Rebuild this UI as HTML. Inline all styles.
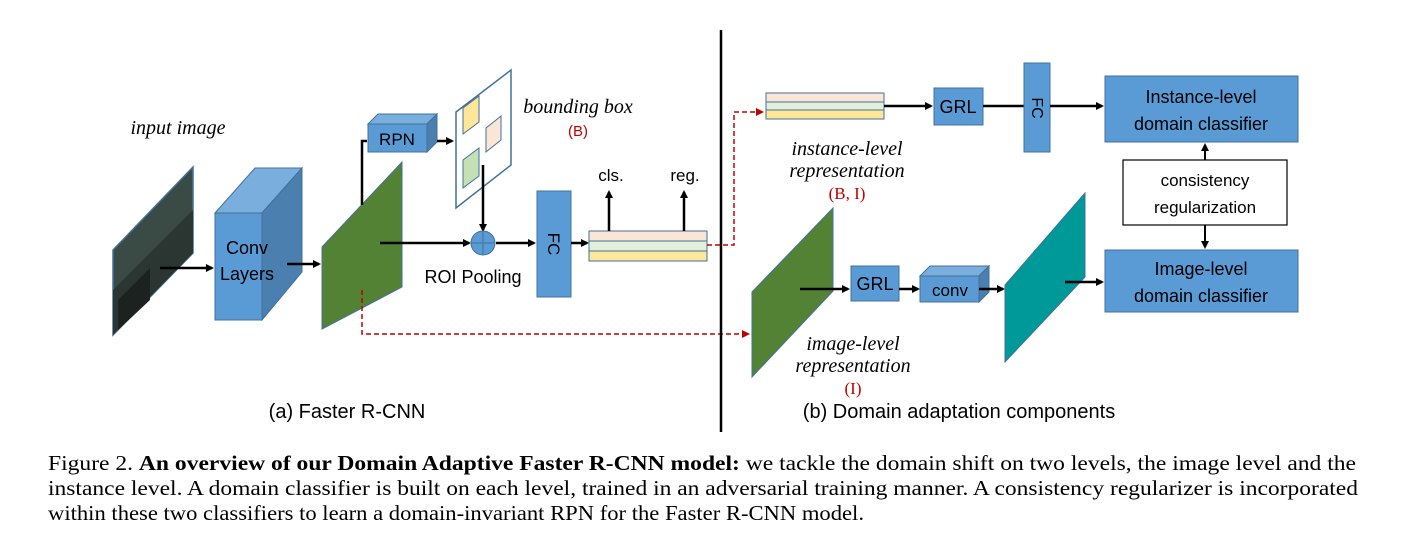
<!DOCTYPE html>
<html><head><meta charset="utf-8"><style>
html,body{margin:0;padding:0;background:#fff;width:1402px;height:550px;overflow:hidden}
svg{display:block}
.s{font-family:"Liberation Sans","DejaVu Sans",sans-serif}
.i{font-family:"Liberation Serif",serif;font-style:italic}
.c{font-family:"Liberation Serif",serif}
</style></head><body>
<svg width="1402" height="550" viewBox="0 0 1402 550" xmlns="http://www.w3.org/2000/svg">
<defs>
<marker id="a" markerWidth="8" markerHeight="8" refX="6" refY="4" orient="auto" markerUnits="userSpaceOnUse"><path d="M0,0 L8,4 L0,8 z" fill="#000"/></marker>
<marker id="r" markerWidth="8" markerHeight="8" refX="6" refY="4" orient="auto" markerUnits="userSpaceOnUse"><path d="M0,0 L8,4 L0,8 z" fill="#c00000"/></marker>
</defs>
<!-- input image -->
<polygon points="113,250 193,167 193,253 113,335" fill="#3a4a44" stroke="#41719c" stroke-width="1.5"/>
<polygon points="113,290 193,210 193,253 113,335" fill="#2b3532"/>
<polygon points="118,300 150,268 150,300 118,330" fill="#1c2220"/>
<text x="178" y="134" class="i" font-size="20" text-anchor="middle">input image</text>
<line x1="160" y1="268" x2="212" y2="268" stroke="#000" stroke-width="2.5" marker-end="url(#a)"/>
<!-- conv -->
<polygon points="215,213 255,168 302,168 262,213" fill="#7aaedd" stroke="#41719c"/>
<polygon points="262,213 302,168 302,272 262,320" fill="#4a7fb0" stroke="#41719c"/>
<rect x="215" y="213" width="47" height="107" fill="#5b9bd5" stroke="#41719c"/>
<text x="247" y="254" class="s" font-size="18" text-anchor="middle">Conv</text>
<text x="247" y="280" class="s" font-size="18" text-anchor="middle">Layers</text>
<line x1="287" y1="264" x2="319" y2="264" stroke="#000" stroke-width="2.5" marker-end="url(#a)"/>
<!-- green map -->
<polygon points="322,247 402,162 402,287 322,329" fill="#548235" stroke="#41719c"/>
<polyline points="362,205 362,141 367,141" fill="none" stroke="#000" stroke-width="2.5"/>
<!-- RPN -->
<polygon points="368,124 378,114 437,114 427,124" fill="#7aaedd" stroke="#41719c"/>
<polygon points="427,124 437,114 437,142 427,152" fill="#4a7fb0" stroke="#41719c"/>
<rect x="368" y="124" width="59" height="28" fill="#5b9bd5" stroke="#41719c"/>
<text x="397" y="145" class="s" font-size="17" text-anchor="middle">RPN</text>
<line x1="437" y1="141" x2="452" y2="141" stroke="#000" stroke-width="2.5" marker-end="url(#a)"/>
<!-- bbox panel -->
<polygon points="456,112 511,70 511,165 456,208" fill="#fff" stroke="#41719c" stroke-width="1.5"/>
<polygon points="463,108 479,96 479,122 463,134" fill="#ffe699" stroke="#41719c"/>
<polygon points="486,128 501,116 501,140 486,152" fill="#fbe5d6" stroke="#41719c"/>
<polygon points="463,160 479,148 479,176 463,188" fill="#c5e0b4" stroke="#41719c"/>
<line x1="483" y1="165" x2="483" y2="230" stroke="#000" stroke-width="2.5" marker-end="url(#a)"/>
<text x="578" y="113" class="i" font-size="20" text-anchor="middle">bounding box</text>
<text x="578" y="136" class="s" font-size="15" fill="#c00000" text-anchor="middle">(B)</text>
<line x1="380" y1="243" x2="469" y2="243" stroke="#000" stroke-width="2.5" marker-end="url(#a)"/>
<circle cx="483" cy="243" r="12" fill="#5b9bd5" stroke="#41719c"/>
<line x1="471" y1="243" x2="495" y2="243" stroke="#41719c"/><line x1="483" y1="231" x2="483" y2="255" stroke="#41719c"/>
<text x="473" y="283" class="s" font-size="18" text-anchor="middle">ROI Pooling</text>
<line x1="496" y1="243" x2="534" y2="243" stroke="#000" stroke-width="2.5" marker-end="url(#a)"/>
<rect x="537" y="191" width="34" height="106" fill="#5b9bd5" stroke="#41719c"/>
<text x="0" y="0" class="s" font-size="17" text-anchor="middle" transform="translate(548,244) rotate(90)">FC</text>
<line x1="571" y1="243" x2="587" y2="243" stroke="#000" stroke-width="2.5" marker-end="url(#a)"/>
<rect x="589" y="231" width="118" height="10" fill="#fbe5d6" stroke="#41719c"/>
<rect x="589" y="241" width="118" height="10" fill="#e2efda" stroke="#41719c"/>
<rect x="589" y="251" width="118" height="10" fill="#ffe699" stroke="#41719c"/>
<line x1="609" y1="231" x2="609" y2="192" stroke="#000" stroke-width="2.5" marker-end="url(#a)"/>
<line x1="684" y1="231" x2="684" y2="192" stroke="#000" stroke-width="2.5" marker-end="url(#a)"/>
<text x="611" y="181" class="s" font-size="17" text-anchor="middle">cls.</text>
<text x="685" y="181" class="s" font-size="17" text-anchor="middle">reg.</text>
<!-- red dashed -->
<polyline points="707,245 734,245 734,112 762,112" fill="none" stroke="#c00000" stroke-width="1.5" stroke-dasharray="5,3" marker-end="url(#r)"/>
<polyline points="362,290 362,334 748,334" fill="none" stroke="#c00000" stroke-width="1.5" stroke-dasharray="5,3" marker-end="url(#r)"/>
<!-- divider -->
<line x1="721" y1="30" x2="721" y2="432" stroke="#000" stroke-width="2.5"/>
<text x="347" y="418" class="s" font-size="20" text-anchor="middle">(a) Faster R-CNN</text>
<text x="959" y="418" class="s" font-size="20" text-anchor="middle">(b) Domain adaptation components</text>
<!-- instance path -->
<rect x="766" y="93" width="118" height="9" fill="#fbe5d6" stroke="#41719c"/>
<rect x="766" y="102" width="118" height="8" fill="#e2efda" stroke="#41719c"/>
<rect x="766" y="110" width="118" height="9" fill="#ffe699" stroke="#41719c"/>
<line x1="884" y1="106" x2="931" y2="106" stroke="#000" stroke-width="2.5" marker-end="url(#a)"/>
<rect x="934" y="88" width="49" height="37" fill="#5b9bd5" stroke="#41719c"/>
<text x="958" y="113" class="s" font-size="18" text-anchor="middle">GRL</text>
<line x1="983" y1="106" x2="1024" y2="106" stroke="#000" stroke-width="2.5"/>
<rect x="1024" y="63" width="26" height="89" fill="#5b9bd5" stroke="#41719c"/>
<text x="0" y="0" class="s" font-size="16" text-anchor="middle" transform="translate(1032,108) rotate(90)">FC</text>
<line x1="1050" y1="106" x2="1102" y2="106" stroke="#000" stroke-width="2.5" marker-end="url(#a)"/>
<rect x="1105" y="76" width="193" height="66" fill="#5b9bd5" stroke="#41719c"/>
<text x="1201" y="103" class="s" font-size="18" text-anchor="middle">Instance-level</text>
<text x="1201" y="130" class="s" font-size="18" text-anchor="middle">domain classifier</text>
<text x="847" y="155" class="i" font-size="20" text-anchor="middle">instance-level</text>
<text x="847" y="177" class="i" font-size="20" text-anchor="middle">representation</text>
<text x="847" y="199" class="c" font-size="17" fill="#c00000" text-anchor="middle">(B, I)</text>
<line x1="1205" y1="163" x2="1205" y2="145" stroke="#000" stroke-width="2" marker-end="url(#a)"/>
<rect x="1123" y="160" width="164" height="65" fill="#fff" stroke="#000" stroke-width="1.2"/>
<text x="1205" y="186" class="s" font-size="17" text-anchor="middle">consistency</text>
<text x="1205" y="213" class="s" font-size="17" text-anchor="middle">regularization</text>
<line x1="1205" y1="225" x2="1205" y2="247" stroke="#000" stroke-width="2" marker-end="url(#a)"/>
<rect x="1105" y="250" width="193" height="62" fill="#5b9bd5" stroke="#41719c"/>
<text x="1201" y="275" class="s" font-size="18" text-anchor="middle">Image-level</text>
<text x="1201" y="302" class="s" font-size="18" text-anchor="middle">domain classifier</text>
<!-- image path -->
<polygon points="752,292 833,208 833,291 752,377" fill="#548235" stroke="#41719c"/>
<line x1="800" y1="289" x2="848" y2="289" stroke="#000" stroke-width="2.5" marker-end="url(#a)"/>
<rect x="851" y="266" width="48" height="35" fill="#5b9bd5" stroke="#41719c"/>
<text x="875" y="290" class="s" font-size="18" text-anchor="middle">GRL</text>
<line x1="899" y1="289" x2="918" y2="289" stroke="#000" stroke-width="2.5" marker-end="url(#a)"/>
<polygon points="920,276 930,266 989,266 979,276" fill="#7aaedd" stroke="#41719c"/>
<polygon points="979,276 989,266 989,292 979,302" fill="#4a7fb0" stroke="#41719c"/>
<rect x="920" y="276" width="59" height="26" fill="#5b9bd5" stroke="#41719c"/>
<text x="950" y="296" class="s" font-size="17" text-anchor="middle">conv</text>
<line x1="979" y1="289" x2="1003" y2="289" stroke="#000" stroke-width="2.5" marker-end="url(#a)"/>
<polygon points="1005,285 1085,193 1085,277 1005,362" fill="#009999" stroke="#41719c"/>
<line x1="1065" y1="282" x2="1102" y2="282" stroke="#000" stroke-width="2.5" marker-end="url(#a)"/>
<text x="853" y="350" class="i" font-size="20" text-anchor="middle">image-level</text>
<text x="853" y="372" class="i" font-size="20" text-anchor="middle">representation</text>
<text x="853" y="394" class="c" font-size="17" fill="#c00000" text-anchor="middle">(I)</text>
<!-- caption -->
<text x="48" y="470" class="c" font-size="21" textLength="1308" lengthAdjust="spacingAndGlyphs">Figure 2. <tspan font-weight="bold">An overview of our Domain Adaptive Faster R-CNN model:</tspan> we tackle the domain shift on two levels, the image level and the</text>
<text x="48" y="495" class="c" font-size="21" textLength="1310" lengthAdjust="spacingAndGlyphs">instance level.  A domain classifier is built on each level, trained in an adversarial training manner.  A consistency regularizer is incorporated</text>
<text x="48" y="520" class="c" font-size="21" textLength="816" lengthAdjust="spacingAndGlyphs">within these two classifiers to learn a domain-invariant RPN for the Faster R-CNN model.</text>
</svg>
</body></html>
